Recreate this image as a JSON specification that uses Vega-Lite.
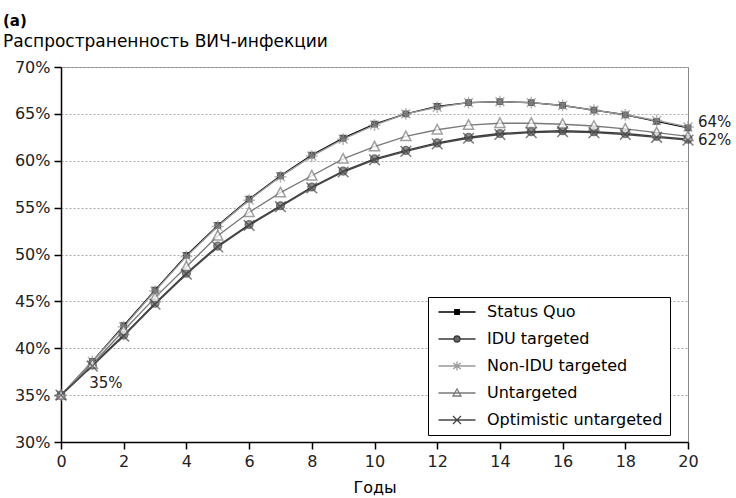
{
  "$schema": "https://vega.github.io/schema/vega-lite/v6.json",
  "width": 627,
  "height": 375,
  "padding": {"left": 3, "top": 14, "right": 5, "bottom": 5},
  "background": "white",
  "title": {
    "text": "(a)",
    "subtitle": "Распространенность ВИЧ-инфекции",
    "anchor": "start",
    "frame": "group",
    "dx": -58,
    "font": "DejaVu Sans",
    "fontSize": 15,
    "fontWeight": "bold",
    "color": "black",
    "subtitleFont": "DejaVu Sans",
    "subtitleFontSize": 17,
    "subtitleColor": "black",
    "subtitlePadding": 5,
    "offset": 9
  },
  "datasets": {
    "series": [
      {"year": 0, "series": "Status Quo", "value": 35}, {"year": 1, "series": "Status Quo", "value": 38.6}, {"year": 2, "series": "Status Quo", "value": 42.4}, {"year": 3, "series": "Status Quo", "value": 46.2}, {"year": 4, "series": "Status Quo", "value": 49.9}, {"year": 5, "series": "Status Quo", "value": 53.1}, {"year": 6, "series": "Status Quo", "value": 55.9}, {"year": 7, "series": "Status Quo", "value": 58.4}, {"year": 8, "series": "Status Quo", "value": 60.6}, {"year": 9, "series": "Status Quo", "value": 62.4}, {"year": 10, "series": "Status Quo", "value": 63.9}, {"year": 11, "series": "Status Quo", "value": 65.0}, {"year": 12, "series": "Status Quo", "value": 65.8}, {"year": 13, "series": "Status Quo", "value": 66.2}, {"year": 14, "series": "Status Quo", "value": 66.3}, {"year": 15, "series": "Status Quo", "value": 66.2}, {"year": 16, "series": "Status Quo", "value": 65.9}, {"year": 17, "series": "Status Quo", "value": 65.4}, {"year": 18, "series": "Status Quo", "value": 64.9}, {"year": 19, "series": "Status Quo", "value": 64.2}, {"year": 20, "series": "Status Quo", "value": 63.5},
      {"year": 0, "series": "IDU targeted", "value": 35}, {"year": 1, "series": "IDU targeted", "value": 38.2}, {"year": 2, "series": "IDU targeted", "value": 41.4}, {"year": 3, "series": "IDU targeted", "value": 44.8}, {"year": 4, "series": "IDU targeted", "value": 48.0}, {"year": 5, "series": "IDU targeted", "value": 50.9}, {"year": 6, "series": "IDU targeted", "value": 53.2}, {"year": 7, "series": "IDU targeted", "value": 55.2}, {"year": 8, "series": "IDU targeted", "value": 57.2}, {"year": 9, "series": "IDU targeted", "value": 58.9}, {"year": 10, "series": "IDU targeted", "value": 60.2}, {"year": 11, "series": "IDU targeted", "value": 61.1}, {"year": 12, "series": "IDU targeted", "value": 61.9}, {"year": 13, "series": "IDU targeted", "value": 62.5}, {"year": 14, "series": "IDU targeted", "value": 62.9}, {"year": 15, "series": "IDU targeted", "value": 63.1}, {"year": 16, "series": "IDU targeted", "value": 63.2}, {"year": 17, "series": "IDU targeted", "value": 63.1}, {"year": 18, "series": "IDU targeted", "value": 62.9}, {"year": 19, "series": "IDU targeted", "value": 62.6}, {"year": 20, "series": "IDU targeted", "value": 62.3},
      {"year": 0, "series": "Non-IDU targeted", "value": 35}, {"year": 1, "series": "Non-IDU targeted", "value": 38.6}, {"year": 2, "series": "Non-IDU targeted", "value": 42.3}, {"year": 3, "series": "Non-IDU targeted", "value": 46.1}, {"year": 4, "series": "Non-IDU targeted", "value": 49.8}, {"year": 5, "series": "Non-IDU targeted", "value": 53.0}, {"year": 6, "series": "Non-IDU targeted", "value": 55.8}, {"year": 7, "series": "Non-IDU targeted", "value": 58.3}, {"year": 8, "series": "Non-IDU targeted", "value": 60.5}, {"year": 9, "series": "Non-IDU targeted", "value": 62.3}, {"year": 10, "series": "Non-IDU targeted", "value": 63.8}, {"year": 11, "series": "Non-IDU targeted", "value": 65.0}, {"year": 12, "series": "Non-IDU targeted", "value": 65.7}, {"year": 13, "series": "Non-IDU targeted", "value": 66.2}, {"year": 14, "series": "Non-IDU targeted", "value": 66.3}, {"year": 15, "series": "Non-IDU targeted", "value": 66.2}, {"year": 16, "series": "Non-IDU targeted", "value": 65.9}, {"year": 17, "series": "Non-IDU targeted", "value": 65.4}, {"year": 18, "series": "Non-IDU targeted", "value": 64.9}, {"year": 19, "series": "Non-IDU targeted", "value": 64.3}, {"year": 20, "series": "Non-IDU targeted", "value": 63.6},
      {"year": 0, "series": "Untargeted", "value": 35}, {"year": 1, "series": "Untargeted", "value": 38.3}, {"year": 2, "series": "Untargeted", "value": 41.9}, {"year": 3, "series": "Untargeted", "value": 45.4}, {"year": 4, "series": "Untargeted", "value": 48.7}, {"year": 5, "series": "Untargeted", "value": 52.0}, {"year": 6, "series": "Untargeted", "value": 54.5}, {"year": 7, "series": "Untargeted", "value": 56.6}, {"year": 8, "series": "Untargeted", "value": 58.4}, {"year": 9, "series": "Untargeted", "value": 60.2}, {"year": 10, "series": "Untargeted", "value": 61.5}, {"year": 11, "series": "Untargeted", "value": 62.6}, {"year": 12, "series": "Untargeted", "value": 63.3}, {"year": 13, "series": "Untargeted", "value": 63.8}, {"year": 14, "series": "Untargeted", "value": 64.0}, {"year": 15, "series": "Untargeted", "value": 64.0}, {"year": 16, "series": "Untargeted", "value": 63.9}, {"year": 17, "series": "Untargeted", "value": 63.7}, {"year": 18, "series": "Untargeted", "value": 63.4}, {"year": 19, "series": "Untargeted", "value": 63.0}, {"year": 20, "series": "Untargeted", "value": 62.6},
      {"year": 0, "series": "Optimistic untargeted", "value": 35}, {"year": 1, "series": "Optimistic untargeted", "value": 38.1}, {"year": 2, "series": "Optimistic untargeted", "value": 41.3}, {"year": 3, "series": "Optimistic untargeted", "value": 44.7}, {"year": 4, "series": "Optimistic untargeted", "value": 47.9}, {"year": 5, "series": "Optimistic untargeted", "value": 50.8}, {"year": 6, "series": "Optimistic untargeted", "value": 53.1}, {"year": 7, "series": "Optimistic untargeted", "value": 55.1}, {"year": 8, "series": "Optimistic untargeted", "value": 57.1}, {"year": 9, "series": "Optimistic untargeted", "value": 58.8}, {"year": 10, "series": "Optimistic untargeted", "value": 60.1}, {"year": 11, "series": "Optimistic untargeted", "value": 61.0}, {"year": 12, "series": "Optimistic untargeted", "value": 61.8}, {"year": 13, "series": "Optimistic untargeted", "value": 62.4}, {"year": 14, "series": "Optimistic untargeted", "value": 62.8}, {"year": 15, "series": "Optimistic untargeted", "value": 63.0}, {"year": 16, "series": "Optimistic untargeted", "value": 63.1}, {"year": 17, "series": "Optimistic untargeted", "value": 63.0}, {"year": 18, "series": "Optimistic untargeted", "value": 62.8}, {"year": 19, "series": "Optimistic untargeted", "value": 62.5}, {"year": 20, "series": "Optimistic untargeted", "value": 62.2}
    ],
    "labels": [
      {"year": 0.9, "value": 36.3, "label": "35%"},
      {"year": 20.32, "value": 64.1, "label": "64%"},
      {"year": 20.32, "value": 62.2, "label": "62%"}
    ]
  },
  "resolve": {"scale": {"color": "independent", "shape": "independent", "fill": "independent"}},
  "layer": [
    {
      "data": {"name": "series"},
      "mark": {"type": "line", "strokeWidth": 1.4},
      "encoding": {
        "x": {"field": "year", "type": "quantitative", "scale": {"domain": [0, 20], "nice": false},
              "axis": {"values": [0, 2, 4, 6, 8, 10, 12, 14, 16, 18, 20], "title": "Годы", "grid": false}},
        "y": {"field": "value", "type": "quantitative", "scale": {"domain": [30, 70], "nice": false, "zero": false},
              "axis": {"values": [30, 35, 40, 45, 50, 55, 60, 65, 70], "labelExpr": "datum.value + '%'", "title": null, "grid": true}},
        "color": {"field": "series", "type": "nominal",
                  "scale": {"domain": ["Optimistic untargeted", "Untargeted", "Non-IDU targeted", "IDU targeted", "Status Quo"],
                            "range": ["#474747", "#7a7a7a", "#9a9a9a", "#3a3a3a", "#000000"]},
                  "legend": null},
        "order": {"field": "year", "type": "quantitative"}
      }
    },
    {
      "data": {"name": "series"},
      "mark": {"type": "point", "filled": false, "strokeWidth": 1.5, "size": 140},
      "encoding": {
        "x": {"field": "year", "type": "quantitative"},
        "y": {"field": "value", "type": "quantitative"},
        "color": {"field": "series", "type": "nominal",
                  "scale": {"domain": ["Optimistic untargeted", "Untargeted", "Non-IDU targeted", "IDU targeted", "Status Quo"],
                            "range": ["#474747", "#7a7a7a", "#9a9a9a", "#3a3a3a", "#000000"]},
                  "legend": null},
        "fill": {"condition": [{"test": "datum.series === 'Status Quo'", "value": "#000000"}, {"test": "datum.series === 'IDU targeted'", "value": "#666666"}, {"test": "datum.series === 'Untargeted'", "value": "#ffffff"}], "value": "transparent"},
        "shape": {"field": "series", "type": "nominal",
                  "scale": {"domain": ["Optimistic untargeted", "Untargeted", "Non-IDU targeted", "IDU targeted", "Status Quo"],
                            "range": ["M-0.9,-0.9L0.9,0.9M-0.9,0.9L0.9,-0.9",
                                      "M0,-0.9L0.85,0.7L-0.85,0.7Z",
                                      "M-1,0L1,0M0,-1L0,1M-0.75,-0.75L0.75,0.75M-0.75,0.75L0.75,-0.75",
                                      "M-0.65,0A0.65,0.65 0 1,1 0.65,0A0.65,0.65 0 1,1 -0.65,0Z",
                                      "M-0.45,-0.45L0.45,-0.45L0.45,0.45L-0.45,0.45Z"]},
                  "legend": null}
      }
    },
    {
      "data": {"name": "series"},
      "mark": {"type": "point", "filled": false, "opacity": 0},
      "encoding": {
        "x": {"field": "year", "type": "quantitative"},
        "y": {"field": "value", "type": "quantitative"},
        "color": {"field": "series", "type": "nominal",
                  "scale": {"domain": ["Status Quo", "IDU targeted", "Non-IDU targeted", "Untargeted", "Optimistic untargeted"],
                            "range": ["#000000", "#3a3a3a", "#9a9a9a", "#7a7a7a", "#474747"]}},
        "fill": {"field": "series", "type": "nominal",
                 "scale": {"domain": ["Status Quo", "IDU targeted", "Non-IDU targeted", "Untargeted", "Optimistic untargeted"],
                           "range": ["#000000", "#666666", "transparent", "#ffffff", "transparent"]}},
        "shape": {"field": "series", "type": "nominal",
                  "scale": {"domain": ["Status Quo", "IDU targeted", "Non-IDU targeted", "Untargeted", "Optimistic untargeted"],
                            "range": ["M-3.7,0L3.7,0M-0.45,-0.45L0.45,-0.45L0.45,0.45L-0.45,0.45Z",
                                      "M-3.7,0L-0.6,0M0.6,0L3.7,0M-0.6,0A0.6,0.6 0 1,1 0.6,0A0.6,0.6 0 1,1 -0.6,0Z",
                                      "M-3.7,0L3.7,0M0,-0.9L0,0.9M-0.75,-0.6L0.75,0.6M-0.75,0.6L0.75,-0.6",
                                      "M-3.7,0L3.7,0M0,-0.8L0.8,0.6L-0.8,0.6Z",
                                      "M-3.7,0L3.7,0M-0.8,-0.8L0.8,0.8M-0.8,0.8L0.8,-0.8"]}}
      }
    },
    {
      "data": {"name": "labels"},
      "mark": {"type": "text", "align": "left", "baseline": "middle", "font": "DejaVu Sans", "fontSize": 15, "color": "#222222"},
      "encoding": {
        "x": {"field": "year", "type": "quantitative"},
        "y": {"field": "value", "type": "quantitative"},
        "text": {"field": "label", "type": "nominal"}
      }
    }
  ],
  "config": {
    "font": "DejaVu Sans",
    "view": {"stroke": "#888888", "strokeWidth": 1},
    "legend": {
      "title": null,
      "orient": "none",
      "legendX": 367,
      "legendY": 230,
      "strokeColor": "black",
      "fillColor": "white",
      "padding": 7,
      "rowPadding": 11,
      "symbolSize": 100,
      "symbolStrokeWidth": 1.3,
      "symbolOpacity": 1,
      "symbolOffset": 14,
      "labelOffset": 22,
      "labelFont": "DejaVu Sans",
      "labelFontSize": 16,
      "labelColor": "black",
      "labelLimit": 400
    },
    "axis": {
      "domainColor": "black",
      "domainWidth": 1.5,
      "tickColor": "black",
      "tickSize": 7,
      "tickWidth": 1.5,
      "labelFont": "DejaVu Sans",
      "labelFontSize": 16,
      "labelColor": "#222222",
      "labelPadding": 4,
      "gridColor": "#aaaaaa",
      "gridDash": [2, 2],
      "gridWidth": 1,
      "titleFont": "DejaVu Sans",
      "titleFontSize": 16,
      "titleFontWeight": "normal",
      "titleColor": "black",
      "titlePadding": 10
    },
    "axisX": {"labelFlush": false}
  }
}
